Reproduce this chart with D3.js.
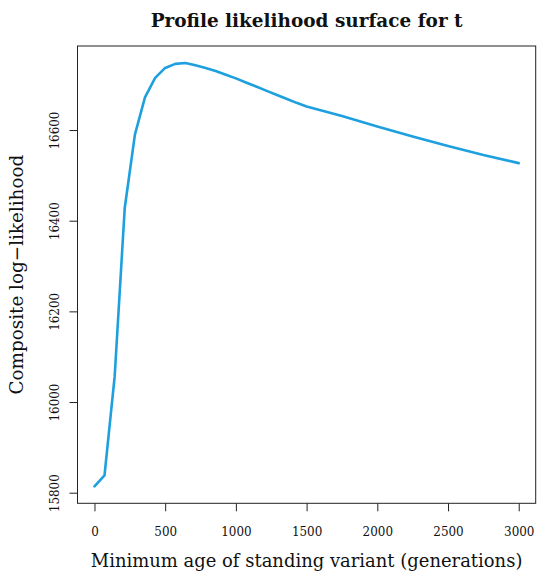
<!DOCTYPE html>
<html>
<head>
<meta charset="utf-8">
<script src="https://cdn.jsdelivr.net/npm/d3@7"></script>
<style>
  body { margin: 0; background: #fff; }
</style>
</head>
<body>
<svg></svg>
<script>
// values
var ages = [0, 71, 143, 214, 286, 357, 429, 500, 571, 643, 714, 786, 857, 929,
  1000, 1071, 1143, 1214, 1286, 1357, 1429, 1500, 1750, 2000, 2250, 2500, 2750, 3000];
var loglik = [15814, 15838, 16057, 16428, 16590, 16672, 16715, 16737, 16746, 16748,
  16743, 16737, 16730, 16722, 16714, 16705, 16696, 16687, 16678, 16669, 16660,
  16652, 16631, 16608, 16586, 16565, 16545, 16527];
var xTicks = [0, 500, 1000, 1500, 2000, 2500, 3000];
var yTicks = [15800, 16000, 16200, 16400, 16600];

var titleText = "Profile likelihood surface for t";
var xTitle = "Minimum age of standing variant (generations)";
var yTitle = "Composite log\u2212likelihood";

var serif = "'DejaVu Serif', serif";

var svg = d3.select("svg")
  .attr("width", 537).attr("height", 573)
  .attr("font-family", serif);

var box = {left: 77.5, right: 535.7, top: 46, bottom: 503.3};

// R style 4% padding around the data range
function pad(ext) {
  var d = (ext[1] - ext[0]) * 0.04;
  return [ext[0] - d, ext[1] + d];
}

var x = d3.scaleLinear()
  .domain(pad(d3.extent(ages)))
  .range([box.left, box.right]);

var y = d3.scaleLinear()
  .domain(pad(d3.extent(loglik)))
  .range([box.bottom, box.top]);

function fit(sel, target) {
  var w = sel.node().getComputedTextLength();
  var fs = parseFloat(sel.attr("font-size"));
  sel.attr("font-size", (fs * target / w));
}

// digits are narrower in the original font
function digitWidth(d) { return String(d).length * 7.6; }

// axes
var xAxis = svg.append("g")
  .attr("transform", "translate(0," + box.bottom + ")")
  .call(d3.axisBottom(x).tickValues(xTicks).tickSize(8).tickFormat(d3.format("d")))
  .attr("font-family", serif)
  .attr("font-size", 13);
xAxis.select(".domain").remove();
xAxis.selectAll(".tick line").attr("stroke", "#222");
xAxis.selectAll(".tick text")
  .attr("y", 33).attr("dy", 0)
  .attr("fill", "#111")
  .attr("textLength", digitWidth)
  .attr("lengthAdjust", "spacingAndGlyphs");

var yAxis = svg.append("g")
  .attr("transform", "translate(" + box.left + ",0)")
  .call(d3.axisLeft(y).tickValues(yTicks).tickSize(8).tickFormat(d3.format("d")))
  .attr("font-family", serif)
  .attr("font-size", 13);
yAxis.select(".domain").remove();
yAxis.selectAll(".tick line").attr("stroke", "#222");
yAxis.selectAll(".tick text")
  .attr("transform", "rotate(-90)")
  .attr("x", 0).attr("y", -19).attr("dy", 0)
  .attr("text-anchor", "middle")
  .attr("fill", "#111")
  .attr("textLength", digitWidth)
  .attr("lengthAdjust", "spacingAndGlyphs");

// plot frame
svg.append("rect")
  .attr("x", box.left).attr("y", box.top)
  .attr("width", box.right - box.left)
  .attr("height", box.bottom - box.top)
  .attr("fill", "none")
  .attr("stroke", "#222")
  .attr("stroke-width", 1);

// the profile curve
var line = d3.line()
  .x(function(d, i) { return x(ages[i]); })
  .y(function(d) { return y(d); });

svg.append("path")
  .datum(loglik)
  .attr("d", line)
  .attr("fill", "none")
  .attr("stroke", "#1ea0de")
  .attr("stroke-width", 2.6)
  .attr("stroke-linejoin", "round")
  .attr("stroke-linecap", "round");

// titles
var t = svg.append("text")
  .attr("x", (box.left + box.right) / 2).attr("y", 27)
  .attr("text-anchor", "middle")
  .attr("font-weight", "bold")
  .attr("font-size", 19)
  .attr("fill", "#111")
  .text(titleText);
fit(t, 312);

var xt = svg.append("text")
  .attr("x", (box.left + box.right) / 2).attr("y", 567)
  .attr("text-anchor", "middle")
  .attr("font-size", 19)
  .attr("fill", "#111")
  .text(xTitle);
fit(xt, 432);

var yt = svg.append("text")
  .attr("transform", "translate(23," + (box.top + box.bottom) / 2 + ") rotate(-90)")
  .attr("text-anchor", "middle")
  .attr("font-size", 19)
  .attr("fill", "#111")
  .text(yTitle);
fit(yt, 240);
</script>
</body>
</html>
